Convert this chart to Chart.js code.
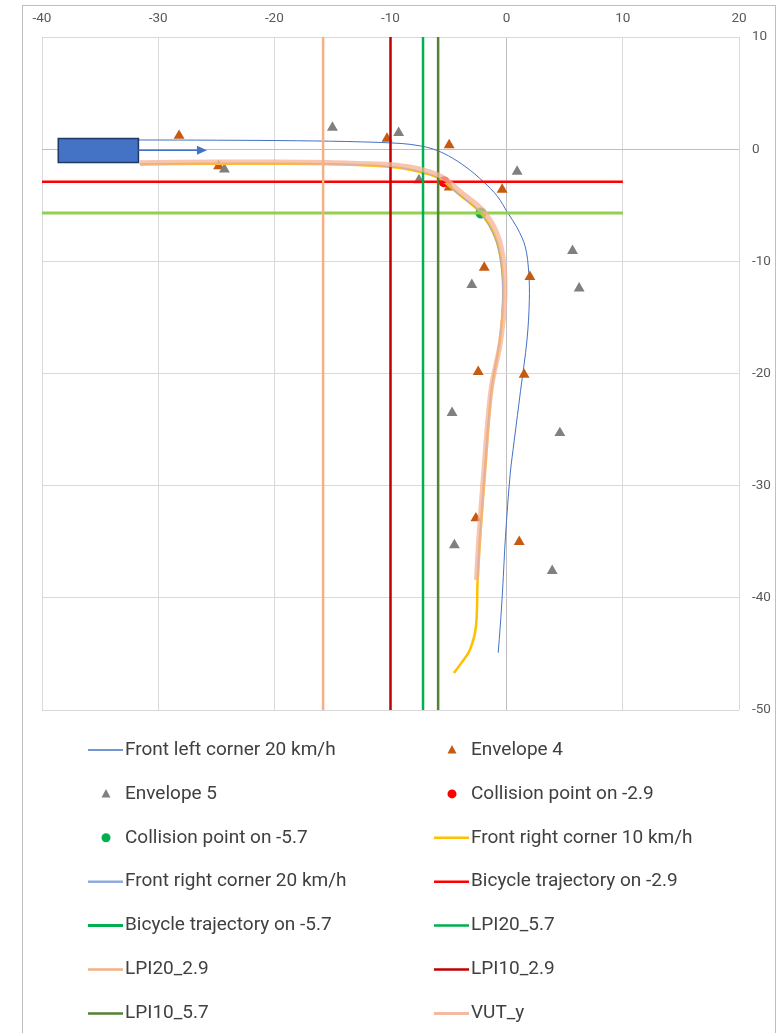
<!DOCTYPE html>
<html>
<head>
<meta charset="utf-8">
<script src="https://cdn.jsdelivr.net/npm/chart.js@4.4.1/dist/chart.umd.min.js"></script>
<style>
  html, body { margin: 0; padding: 0; background: #fff; }
  #wrap { width: 782px; height: 1033px; }
</style>
</head>
<body>
<div id="wrap"><canvas id="chart" width="782" height="1033"></canvas></div>
<script>
// axis ranges / ticks
const xTicks = [-40, -30, -20, -10, 0, 10, 20];
const yTicks = [10, 0, -10, -20, -30, -40, -50];

// vehicle trajectories
const frontLeft20X = [-31.7, -25, -18, -12.5, -9, -7.5, -6.3, -5, -3.5, -2.0, -0.8, 0.1, 0.9, 1.6, 1.9, 1.95, 1.75, 1.2, 0.65, 0.3, -0.1, -0.35, -0.55, -0.73];
const frontLeft20Y = [0.82, 0.8, 0.75, 0.65, 0.5, 0.3, 0, -0.6, -1.6, -2.9, -4.2, -5.7, -7.0, -8.7, -11, -13.5, -17, -21.5, -26, -29, -34.5, -39.3, -42.5, -44.9];

const frontRight10X = [-31.55, -25, -20, -15, -11, -9, -7.2, -5.75, -4.03, -2.22, -1.0, -0.44, -0.3, -0.58, -1.3, -1.88, -2.3, -2.5, -2.65, -3.17, -3.9, -4.54];
const frontRight10Y = [-1.36, -1.3, -1.3, -1.35, -1.5, -1.7, -2.1, -2.65, -4.1, -5.7, -7.8, -10.2, -13.2, -17, -21.5, -28.9, -34.8, -38.4, -42.6, -44.65, -45.8, -46.7];

const frontRight20X = [-31.55, -25, -20, -15, -11, -9, -7.2, -5.8, -4.1, -2.3, -1.05, -0.5, -0.35, -0.62, -1.33, -1.92, -2.33, -2.5];
const frontRight20Y = [-1.3, -1.27, -1.27, -1.32, -1.47, -1.67, -2.05, -2.6, -4.05, -5.65, -7.8, -10.2, -13.2, -17, -21.5, -28.9, -34.8, -38.4];

const vutX = [-31.6, -25, -20, -15, -11, -9, -7.2, -5.6, -3.85, -2.0, -0.8, -0.25, -0.15, -0.5, -1.35, -1.98, -2.4, -2.6];
const vutY = [-1.2, -1.15, -1.15, -1.2, -1.33, -1.5, -1.85, -2.45, -3.9, -5.5, -7.6, -10.1, -13.2, -17, -21.5, -28.9, -34.8, -38.4];

// envelopes
const env4X = [-28.2, -24.8, -10.3, -4.95, -4.95, -0.39, -1.93, 2.0, -2.45, 1.5, -2.65, 1.08];
const env4Y = [1.2, -1.5, 0.95, 0.36, -3.4, -3.6, -10.55, -11.38, -19.85, -20.1, -32.9, -35.0];
const env5X = [-15.0, -9.3, -24.3, -7.55, 0.9, 5.67, 6.24, -3.0, -4.7, 4.58, -4.5, 3.92];
const env5Y = [1.93, 1.45, -1.8, -2.76, -2.0, -9.06, -12.4, -12.1, -23.5, -25.3, -35.3, -37.6];

// collision points
const coll29X = [-5.4];
const coll29Y = [-2.9];
const coll57X = [-2.22];
const coll57Y = [-5.7];

// bicycle trajectories (horizontal)
const bike29X = [-40, 10];
const bike29Y = [-2.9, -2.9];
const bike57X = [-40, 10];
const bike57Y = [-5.7, -5.7];

// LPI lines (vertical)
const lpi20_57X = [-7.2, -7.2];
const lpi20_29X = [-15.8, -15.8];
const lpi10_29X = [-10, -10];
const lpi10_57X = [-5.9, -5.9];
const lpiY = [10, -50];

// vehicle box + heading arrow
const vehicleX = [-38.6, -31.7];
const vehicleY = [0.95, -1.19];
const arrowX = [-31.7, -25.8];
const arrowY = -0.09;

const FONT = "'Liberation Sans Narrow', 'Arial Narrow', 'Roboto', sans-serif";

function pts(xs, ys) {
  return xs.map((x, i) => ({ x: x, y: ys[i] }));
}

function lineSet(label, xs, ys, color, width, extra) {
  return Object.assign({
    label: label,
    data: pts(xs, ys),
    showLine: true,
    borderColor: color,
    backgroundColor: color,
    borderWidth: width,
    pointRadius: 0,
    tension: 0.35,
    fill: false
  }, extra || {});
}

function markerSet(label, xs, ys, color, style, radius) {
  return {
    label: label,
    data: pts(xs, ys),
    showLine: false,
    pointStyle: style,
    pointRadius: radius,
    pointHoverRadius: radius,
    pointBackgroundColor: color,
    pointBorderColor: color,
    pointBorderWidth: 0,
    borderColor: color,
    backgroundColor: color
  };
}

const datasets = [
  lineSet("Front left corner 20 km/h", frontLeft20X, frontLeft20Y, "#4472C4", 1),
  markerSet("Envelope 4", env4X, env4Y, "#C55A11", "triangle", 6.3),
  markerSet("Envelope 5", env5X, env5Y, "#808080", "triangle", 6.3),
  markerSet("Collision point on -2.9", coll29X, coll29Y, "#FF0000", "circle", 5.5),
  markerSet("Collision point on -5.7", coll57X, coll57Y, "#00B050", "circle", 5.5),
  lineSet("Front right corner 10 km/h", frontRight10X, frontRight10Y, "#FFC000", 2.5),
  lineSet("Front right corner 20 km/h", frontRight20X, frontRight20Y, "#8FAADC", 1, { legendWidth: 2.5 }),
  lineSet("Bicycle trajectory on -2.9", bike29X, bike29Y, "#FF0000", 2.5, { tension: 0 }),
  lineSet("Bicycle trajectory on -5.7", bike57X, bike57Y, "#92D050", 3, { tension: 0, legendColor: "#00B050" }),
  lineSet("LPI20_5.7", lpi20_57X, lpiY, "#00B050", 2.5, { tension: 0 }),
  lineSet("LPI20_2.9", lpi20_29X, lpiY, "#F4B183", 2.5, { tension: 0 }),
  lineSet("LPI10_2.9", lpi10_29X, lpiY, "#C00000", 2.5, { tension: 0 }),
  lineSet("LPI10_5.7", lpi10_57X, lpiY, "#548235", 2.5, { tension: 0 }),
  lineSet("VUT_y", vutX, vutY, "rgba(244,177,150,0.75)", 5, { legendColor: "#F4B9A0", legendWidth: 3 })
];
// later series on top, like the spreadsheet
datasets.forEach((d, i) => { d.order = datasets.length - i; });

const framePlugin = {
  id: "frame",
  beforeDraw(chart) {
    const ctx = chart.ctx;
    ctx.save();
    ctx.fillStyle = "#fff";
    ctx.fillRect(0, 0, chart.width, chart.height);
    ctx.strokeStyle = "#BFBFBF";
    ctx.lineWidth = 1;
    ctx.strokeRect(22.5, 5.5, 753, chart.height + 10);
    ctx.restore();
  }
};

const vehiclePlugin = {
  id: "vehicle",
  afterDatasetsDraw(chart) {
    const ctx = chart.ctx;
    const xs = chart.scales.x, ys = chart.scales.y;
    const l = xs.getPixelForValue(vehicleX[0]), r = xs.getPixelForValue(vehicleX[1]);
    const t = ys.getPixelForValue(vehicleY[0]), b = ys.getPixelForValue(vehicleY[1]);
    ctx.save();
    ctx.fillStyle = "#4472C4";
    ctx.strokeStyle = "#1F3864";
    ctx.lineWidth = 1.5;
    ctx.fillRect(l, t, r - l, b - t);
    ctx.strokeRect(l, t, r - l, b - t);
    const a0 = xs.getPixelForValue(arrowX[0]), a1 = xs.getPixelForValue(arrowX[1]);
    const ay = ys.getPixelForValue(arrowY);
    ctx.strokeStyle = "#4472C4";
    ctx.lineWidth = 1.5;
    ctx.beginPath();
    ctx.moveTo(a0, ay);
    ctx.lineTo(a1 - 8, ay);
    ctx.stroke();
    ctx.fillStyle = "#4472C4";
    ctx.beginPath();
    ctx.moveTo(a1, ay);
    ctx.lineTo(a1 - 10, ay - 4.5);
    ctx.lineTo(a1 - 10, ay + 4.5);
    ctx.closePath();
    ctx.fill();
    ctx.restore();
  }
};

// two-column legend under the plot
const legendPlugin = {
  id: "twoColLegend",
  afterDraw(chart) {
    const ctx = chart.ctx;
    const top = chart.chartArea.bottom + 40;
    const rowH = 43.9;
    const cols = [88, 434];
    ctx.save();
    ctx.font = "19px " + FONT;
    ctx.textBaseline = "middle";
    ctx.textAlign = "left";
    chart.data.datasets.forEach((ds, i) => {
      const x0 = cols[i % 2];
      const y = top + Math.floor(i / 2) * rowH;
      const color = ds.legendColor || ds.borderColor;
      if (ds.showLine) {
        ctx.strokeStyle = color;
        ctx.lineWidth = ds.legendWidth || Math.min(ds.borderWidth, 3);
        if (ds.borderWidth <= 1 && !ds.legendWidth) ctx.lineWidth = 1.5;
        ctx.beginPath();
        ctx.moveTo(x0, y);
        ctx.lineTo(x0 + 35, y);
        ctx.stroke();
      } else {
        const cx = x0 + 18;
        ctx.fillStyle = color;
        ctx.beginPath();
        if (ds.pointStyle === "triangle") {
          ctx.moveTo(cx, y - 5);
          ctx.lineTo(cx + 4.5, y + 3.5);
          ctx.lineTo(cx - 4.5, y + 3.5);
          ctx.closePath();
        } else {
          ctx.arc(cx, y, 4.5, 0, Math.PI * 2);
        }
        ctx.fill();
      }
      ctx.fillStyle = "#404040";
      ctx.fillText(ds.label, x0 + 37, y);
    });
    ctx.restore();
  }
};

function gridColor(c) {
  return c.tick && c.tick.value === 0 ? "#BFBFBF" : "#D9D9D9";
}

new Chart(document.getElementById("chart"), {
  type: "scatter",
  data: { datasets: datasets },
  options: {
    responsive: false,
    animation: false,
    events: [],
    layout: { padding: { left: 42, right: 0, top: 0, bottom: 323 } },
    plugins: {
      legend: { display: false },
      tooltip: { enabled: false }
    },
    scales: {
      x: {
        type: "linear",
        position: "top",
        min: xTicks[0],
        max: xTicks[xTicks.length - 1],
        afterBuildTicks: (s) => { s.ticks = xTicks.map(v => ({ value: v })); },
        afterFit: (s) => { s.height = 37; },
        ticks: { color: "#595959", font: { size: 13.5, family: FONT }, padding: 10, maxRotation: 0 },
        grid: { color: gridColor, lineWidth: 1, drawTicks: false, tickLength: 0 },
        border: { display: false }
      },
      y: {
        type: "linear",
        position: "right",
        min: yTicks[yTicks.length - 1],
        max: yTicks[0],
        afterBuildTicks: (s) => { s.ticks = yTicks.map(v => ({ value: v })); },
        afterFit: (s) => { s.width = 43; },
        ticks: { color: "#595959", font: { size: 13.5, family: FONT }, padding: 13 },
        grid: { color: gridColor, lineWidth: 1, drawTicks: false, tickLength: 0 },
        border: { display: false }
      }
    }
  },
  plugins: [framePlugin, vehiclePlugin, legendPlugin]
});
</script>
</body>
</html>
